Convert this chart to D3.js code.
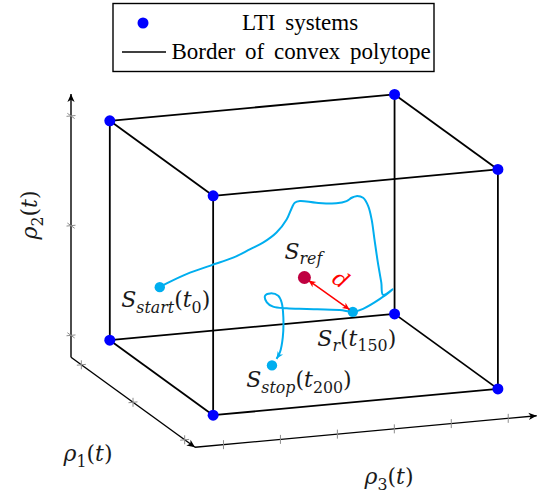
<!DOCTYPE html>
<html>
<head>
<meta charset="utf-8">
<style>
  body { margin: 0; background: #fff; }
  svg { display: block; }
  .math { font-family: "DejaVu Serif", serif; font-style: italic; }
  .legend { font-family: "Liberation Serif", serif; font-size: 23px; word-spacing: 4px; }
</style>
</head>
<body>
<svg id="chart" width="541" height="492"></svg>
<script src="https://cdn.jsdelivr.net/npm/d3@7/dist/d3.min.js"></script>
<script>
// axis ranges and ticks (rho1, rho2, rho3)
var rho1Range = [-1.2, 1.2],
    rho2Range = [-1.2, 1.2],
    rho3Range = [-0.5, 5.5];
var rho1Ticks = [-1, 0, 1],
    rho2Ticks = [-1, 0, 1],
    rho3Ticks = [0, 1, 2, 3, 4, 5];

// polytope (box) bounds, the LTI systems sit on its corners
var rho1Bounds = [-1, 1],
    rho2Bounds = [-1, 1],
    rho3Bounds = [0, 5];

// trajectory, drawn in the rho1 = 0 plane, as [rho3, rho2]
var trajRho1 = 0;
var trajectory = [
  [-0.03, -0.173], [0.10, -0.143], [0.45, -0.075], [0.86, -0.019], [1.27, 0.036],
  [1.56, 0.098], [1.79, 0.147], [2.02, 0.226], [2.20, 0.339], [2.29, 0.440],
  [2.34, 0.483], [2.43, 0.494], [2.72, 0.464], [3.07, 0.442], [3.25, 0.454],
  [3.34, 0.480], [3.42, 0.491], [3.54, 0.470], [3.63, 0.390], [3.69, 0.266],
  [3.74, 0.082], [3.80, -0.134], [3.86, -0.319], [3.89, -0.432], [4.06, -0.389],
  [3.83, -0.468], [3.54, -0.542], [3.36, -0.561], [3.13, -0.534], [2.55, -0.496],
  [2.20, -0.473], [1.96, -0.446], [1.85, -0.402], [1.82, -0.339], [1.91, -0.323],
  [2.05, -0.351], [2.11, -0.415], [2.14, -0.552], [2.13, -0.734], [2.08, -0.868],
  [2.02, -0.925]
];
var sStart = [-0.03, -0.173],
    sRef   = [2.51, -0.207],
    sR     = [3.36, -0.561],
    sStop  = [1.94, -0.981];

var svg = d3.select("#chart");

// oblique projection: origin of the axis box and the three axis vectors
var O = [71, 357.3],
    V1 = [124, 90],
    V2 = [0, -263.3],
    V3 = [341.7, -31.6];

var s1 = d3.scaleLinear().domain(rho1Range).range([0, 1]),
    s2 = d3.scaleLinear().domain(rho2Range).range([0, 1]),
    s3 = d3.scaleLinear().domain(rho3Range).range([0, 1]);

function proj(r1, r2, r3) {
  var a = s1(r1), b = s2(r2), c = s3(r3);
  return [O[0] + a * V1[0] + b * V2[0] + c * V3[0],
          O[1] + a * V1[1] + b * V2[1] + c * V3[1]];
}
function tp(p) { return proj(trajRho1, p[1], p[0]); }

// arrow tips
var defs = svg.append("defs");
function tip(id, color, len) {
  defs.append("marker")
      .attr("id", id)
      .attr("viewBox", "-10 -5 12 10")
      .attr("refX", 0).attr("refY", 0)
      .attr("markerWidth", len * 1.2).attr("markerHeight", len)
      .attr("markerUnits", "userSpaceOnUse")
      .attr("orient", "auto-start-reverse")
    .append("path")
      .attr("d", "M0,0 L-9,-4 L-6.5,0 L-9,4 Z")
      .attr("fill", color);
}
tip("ax", "#000", 9);
tip("cy", "#00aeef", 8);
tip("rd", "#ff0000", 8);

var line = d3.line();

// axes
var pMin = proj(rho1Range[0], rho2Range[0], rho3Range[0]);
var axes = [
  [pMin, proj(rho1Range[0], rho2Range[1], rho3Range[0])],
  [pMin, proj(rho1Range[1], rho2Range[0], rho3Range[0])],
  [proj(rho1Range[1], rho2Range[0], rho3Range[0]), proj(rho1Range[1], rho2Range[0], rho3Range[1])]
];
svg.append("g").selectAll("path")
  .data(axes)
  .enter().append("path")
    .attr("d", line)
    .attr("fill", "none")
    .attr("stroke", "#000")
    .attr("stroke-width", 1.4)
    .attr("marker-end", "url(#ax)");

// ticks: small gray strokes along the other axes' directions
function unit(v, len) {
  var n = Math.sqrt(v[0] * v[0] + v[1] * v[1]);
  return [v[0] / n * len, v[1] / n * len];
}
var tickMarks = [];
rho2Ticks.forEach(function(t) {
  var p = proj(rho1Range[0], t, rho3Range[0]);
  [unit(V1, 4.5), unit(V3, 4.5)].forEach(function(d) {
    tickMarks.push([[p[0] - d[0], p[1] - d[1]], [p[0] + d[0], p[1] + d[1]]]);
  });
});
rho1Ticks.forEach(function(t) {
  var p = proj(t, rho2Range[0], rho3Range[0]);
  [unit(V2, 4.5), unit(V3, 4.5)].forEach(function(d) {
    tickMarks.push([[p[0] - d[0], p[1] - d[1]], [p[0] + d[0], p[1] + d[1]]]);
  });
});
rho3Ticks.forEach(function(t) {
  var p = proj(rho1Range[1], rho2Range[0], t);
  var d = unit(V2, 4.5);
  tickMarks.push([[p[0] - d[0], p[1] - d[1]], [p[0] + d[0], p[1] + d[1]]]);
});
svg.append("g").selectAll("path")
  .data(tickMarks)
  .enter().append("path")
    .attr("d", line)
    .attr("stroke", "#8c8c8c")
    .attr("stroke-width", 1);

// polytope edges
var edges = [];
rho2Bounds.forEach(function(b) { rho3Bounds.forEach(function(c) {
  edges.push([proj(rho1Bounds[0], b, c), proj(rho1Bounds[1], b, c)]);
}); });
rho1Bounds.forEach(function(a) { rho3Bounds.forEach(function(c) {
  edges.push([proj(a, rho2Bounds[0], c), proj(a, rho2Bounds[1], c)]);
}); });
rho1Bounds.forEach(function(a) { rho2Bounds.forEach(function(b) {
  edges.push([proj(a, b, rho3Bounds[0]), proj(a, b, rho3Bounds[1])]);
}); });
svg.append("g").selectAll("path")
  .data(edges)
  .enter().append("path")
    .attr("d", line)
    .attr("stroke", "#000")
    .attr("stroke-width", 1.8);

// LTI systems at the corners
var corners = [];
rho1Bounds.forEach(function(a) { rho2Bounds.forEach(function(b) { rho3Bounds.forEach(function(c) {
  corners.push(proj(a, b, c));
}); }); });
svg.append("g").selectAll("circle")
  .data(corners)
  .enter().append("circle")
    .attr("cx", function(d) { return d[0]; })
    .attr("cy", function(d) { return d[1]; })
    .attr("r", 5.5)
    .attr("fill", "#0000ff");

// trajectory
svg.append("path")
    .datum(trajectory.map(tp))
    .attr("d", d3.line().curve(d3.curveCatmullRom.alpha(0.5)))
    .attr("fill", "none")
    .attr("stroke", "#00aeef")
    .attr("stroke-width", 2)
    .attr("stroke-linejoin", "round")
    .attr("marker-end", "url(#cy)");

[sStart, sR, sStop].forEach(function(p) {
  var q = tp(p);
  svg.append("circle").attr("cx", q[0]).attr("cy", q[1]).attr("r", 5.2).attr("fill", "#00aeef");
});

// reference point and distance d
var qRef = tp(sRef), qR = tp(sR);
var dd = unit([qR[0] - qRef[0], qR[1] - qRef[1]], 1);
svg.append("path")
    .datum([[qRef[0] + dd[0] * 5, qRef[1] + dd[1] * 5], [qR[0] - dd[0] * 4, qR[1] - dd[1] * 4]])
    .attr("d", line)
    .attr("stroke", "#ff0000")
    .attr("stroke-width", 1.5)
    .attr("marker-start", "url(#rd)")
    .attr("marker-end", "url(#rd)");
svg.append("circle").attr("cx", qRef[0]).attr("cy", qRef[1]).attr("r", 6.5).attr("fill", "#bf0040");

// math labels: parts are [text, kind], kind: i italic, r roman, si italic sub, sr roman sub
function mathLabel(x, y, parts, opts) {
  opts = opts || {};
  var size = opts.size || 22;
  var t = svg.append("text")
      .attr("class", "math")
      .attr("x", x).attr("y", y)
      .attr("font-size", size)
      .attr("text-anchor", opts.anchor || "middle")
      .attr("fill", opts.color || "#1a1a1a");
  if (opts.rotate) t.attr("transform", "rotate(" + opts.rotate + "," + x + "," + y + ")");
  var shift = 0;
  parts.forEach(function(p) {
    var sub = p[1].charAt(0) === "s";
    var ds = sub ? 5.5 : 0;
    t.append("tspan")
        .attr("dy", ds - shift)
        .attr("font-size", sub ? size * 0.72 : size)
        .attr("font-style", p[1].slice(-1) === "r" ? "normal" : "italic")
        .text(p[0]);
    shift = ds;
  });
  return t;
}

var q0 = tp(sStart), qs = tp(sStop);
mathLabel(q0[0] + 6, q0[1] + 20, [["S", "i"], ["start", "si"], ["(", "r"], ["t", "i"], ["0", "sr"], [")", "r"]]);
mathLabel(qRef[0] - 1, qRef[1] - 19, [["S", "i"], ["ref", "si"]]);
mathLabel(qR[0] + 4, qR[1] + 34, [["S", "i"], ["r", "si"], ["(", "r"], ["t", "i"], ["150", "sr"], [")", "r"]]);
mathLabel(qs[0] + 27, qs[1] + 22, [["S", "i"], ["stop", "si"], ["(", "r"], ["t", "i"], ["200", "sr"], [")", "r"]]);
mathLabel((qRef[0] + qR[0]) / 2 + 8, (qRef[1] + qR[1]) / 2 - 9, [["d", "i"]], {color: "#ff0000", rotate: 35});

mathLabel(88, 461, [["ρ", "i"], ["1", "sr"], ["(", "r"], ["t", "i"], [")", "r"]]);
mathLabel(389, 484, [["ρ", "i"], ["3", "sr"], ["(", "r"], ["t", "i"], [")", "r"]]);
mathLabel(37, 215, [["ρ", "i"], ["2", "sr"], ["(", "r"], ["t", "i"], [")", "r"]], {rotate: -90});

// legend
var lg = svg.append("g");
lg.append("rect")
    .attr("x", 113).attr("y", 3.5).attr("width", 321).attr("height", 68)
    .attr("fill", "#fff").attr("stroke", "#000").attr("stroke-width", 1.4);
lg.append("circle").attr("cx", 143).attr("cy", 23).attr("r", 5.5).attr("fill", "#0000ff");
lg.append("line").attr("x1", 122).attr("x2", 166).attr("y1", 52).attr("y2", 52)
    .attr("stroke", "#000").attr("stroke-width", 1.6);
lg.append("text").attr("class", "legend").attr("x", 300).attr("y", 30)
    .attr("text-anchor", "middle").text("LTI systems");
lg.append("text").attr("class", "legend").attr("x", 301).attr("y", 59)
    .attr("text-anchor", "middle").text("Border of convex polytope");
</script>
</body>
</html>
